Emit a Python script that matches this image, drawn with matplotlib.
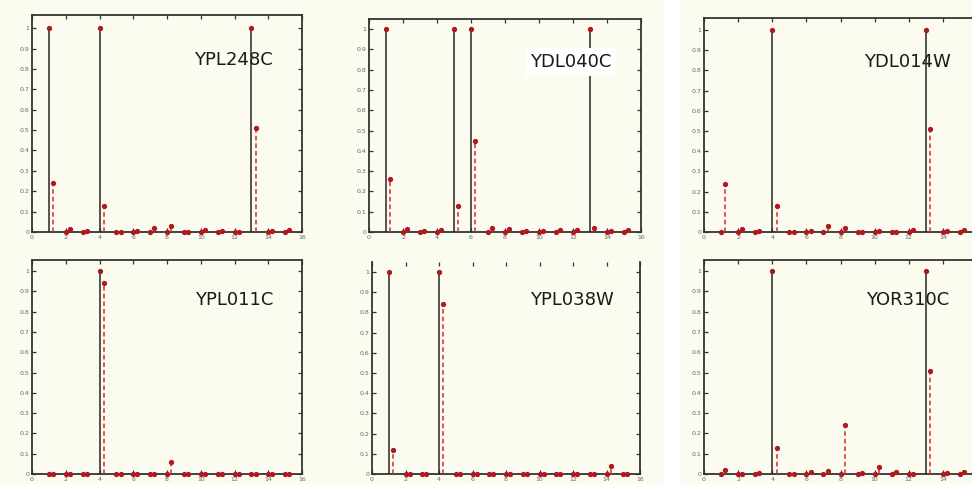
import matplotlib.pyplot as plt
from matplotlib.patches import Rectangle

# Profile positions 1..15; each position carries a reference value (black)
# and a measured fraction (red, drawn slightly to the right).
positions = list(range(1, 16))
offset = 0.25

ypl248c_ref = [1, 0, 0, 1, 0, 0, 0, 0, 0, 0, 0, 0, 1, 0, 0]
ypl248c_obs = [0.24, 0.015, 0.005, 0.13, 0.0, 0.005, 0.02, 0.03, 0.0, 0.01, 0.003, 0.0, 0.51, 0.003, 0.01]

ydl040c_ref = [1, 0, 0, 0, 1, 1, 0, 0, 0, 0, 0, 0, 1, 0, 0]
ydl040c_obs = [0.26, 0.015, 0.005, 0.012, 0.13, 0.45, 0.02, 0.015, 0.003, 0.005, 0.008, 0.01, 0.02, 0.003, 0.01]

ydl014w_ref = [0, 0, 0, 1, 0, 0, 0, 0, 0, 0, 0, 0, 1, 0, 0]
ydl014w_obs = [0.24, 0.015, 0.005, 0.13, 0.0, 0.005, 0.03, 0.02, 0.0, 0.005, 0.0, 0.01, 0.51, 0.003, 0.01]

ypl011c_ref = [0, 0, 0, 1, 0, 0, 0, 0, 0, 0, 0, 0, 0, 0, 0]
ypl011c_obs = [0.0, 0.0, 0.0, 0.94, 0.0, 0.0, 0.0, 0.06, 0.0, 0.0, 0.0, 0.0, 0.0, 0.0, 0.0]

ypl038w_ref = [1, 0, 0, 1, 0, 0, 0, 0, 0, 0, 0, 0, 0, 0, 0]
ypl038w_obs = [0.12, 0.0, 0.0, 0.84, 0.0, 0.0, 0.0, 0.0, 0.0, 0.0, 0.0, 0.0, 0.0, 0.04, 0.0]

yor310c_ref = [0, 0, 0, 1, 0, 0, 0, 0, 0, 0, 0, 0, 1, 0, 0]
yor310c_obs = [0.02, 0.0, 0.005, 0.13, 0.0, 0.008, 0.015, 0.24, 0.005, 0.035, 0.01, 0.0, 0.51, 0.003, 0.012]

gene_names = ["YPL248C", "YDL040C", "YDL014W", "YPL011C", "YPL038W", "YOR310C"]
ref_series = [ypl248c_ref, ydl040c_ref, ydl014w_ref, ypl011c_ref, ypl038w_ref, yor310c_ref]
obs_series = [ypl248c_obs, ydl040c_obs, ydl014w_obs, ypl011c_obs, ypl038w_obs, yor310c_obs]

x_ticks = list(range(0, 17, 2))
x_tick_labels = [str(v) for v in x_ticks]
y_ticks = [0, 0.1, 0.2, 0.3, 0.4, 0.5, 0.6, 0.7, 0.8, 0.9, 1]
y_tick_labels = ["0", "0.1", "0.2", "0.3", "0.4", "0.5", "0.6", "0.7", "0.8", "0.9", "1"]

W, H = 972, 484
BG = "#fcfbef"
fig = plt.figure(figsize=(W / 100, H / 100), dpi=100, facecolor=BG)

# white seam between the second and third columns
fig.patches.append(Rectangle((664 / W, 0), 16 / W, 1, transform=fig.transFigure,
                             facecolor="white", edgecolor="none", zorder=-5))

# axes boxes in pixels: left, top, right, bottom
boxes = [
    (32, 15, 302, 232),
    (369, 19, 641, 232),
    (704, 18, 977, 232),
    (32, 260, 302, 474),
    (372, 262, 640, 474),
    (704, 260, 977, 474),
]
y_tops = [1.065, 1.05, 1.06, 1.055, 1.05, 1.055]
label_pos = [(233, 60), (571, 62), (907, 62), (234, 300), (572, 300), (908, 300)]

line_dark = "#262626"
red_line = "#d42a2a"
dot_col = "#ad1a20"

for k, (l, t, r, b) in enumerate(boxes):
    ax = fig.add_axes([l / W, 1 - b / H, (r - l) / W, (b - t) / H])
    ax.set_facecolor(BG)
    ax.set_xlim(0, 16)
    ax.set_ylim(0, y_tops[k])

    refs = ref_series[k]
    obs = obs_series[k]
    xs_obs = [p + offset for p in positions]

    ax.vlines(positions, 0, refs, colors=line_dark, linewidth=1.1, zorder=3)
    ax.vlines(xs_obs, 0, obs, colors=red_line, linewidth=1.1,
              linestyles=(0, (3, 2)), zorder=3)
    ax.plot(positions, refs, "o", ms=2.8, color=dot_col, mec=dot_col, zorder=4, clip_on=False)
    ax.plot(xs_obs, obs, "o", ms=2.8, color=dot_col, mec=dot_col, zorder=4, clip_on=False)

    ax.set_xticks(x_ticks)
    # the last column runs past the right edge of the figure, so its 16 label is not shown
    ax.set_xticklabels(x_tick_labels if r < W else x_tick_labels[:-1] + [""])
    ax.set_yticks(y_ticks)
    ax.set_yticklabels(y_tick_labels)
    ax.tick_params(direction="in", top=True, right=True, length=3, width=0.9,
                   color="#333333", labelsize=4.5, labelcolor="#666666", pad=2)
    for sp in ax.spines.values():
        sp.set_linewidth(1.3)
        sp.set_color("#333333")
    if k == 4:
        ax.spines["top"].set_visible(False)

    lx, ly = label_pos[k]
    if k == 1:
        ax.text(lx / W, 1 - ly / H, gene_names[k], transform=fig.transFigure,
                ha="center", va="center", fontsize=13, color="#1a1a1a", zorder=6,
                bbox=dict(boxstyle="square,pad=0.25", facecolor="white", edgecolor="none"))
    else:
        ax.text(lx / W, 1 - ly / H, gene_names[k], transform=fig.transFigure,
                ha="center", va="center", fontsize=13, color="#1a1a1a", zorder=1)

fig.savefig("out.png", dpi=100, facecolor=BG)
